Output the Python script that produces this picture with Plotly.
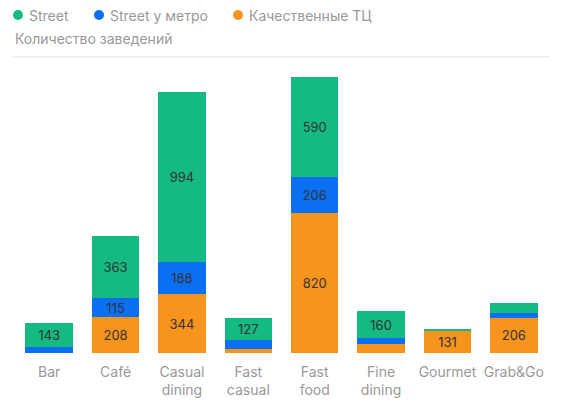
import plotly.graph_objects as go

# categories and values
categories = ['Bar', 'Café', 'Casual<br>dining', 'Fast<br>casual', 'Fast<br>food',
              'Fine<br>dining', 'Gourmet', 'Grab&Go']
mall = [0, 208, 344, 21, 820, 53, 131, 206]        # Качественные ТЦ
metro = [35, 115, 188, 54, 206, 33, 2, 29]         # Street у метро
street = [143, 363, 994, 127, 590, 160, 5, 60]     # Street

series_names = ['Street', 'Street у метро', 'Качественные ТЦ']
colors = {'Street': '#15b982', 'Street у метро': '#0b6ff4', 'Качественные ТЦ': '#f7941e'}

FONT = 'Inter, Roboto, sans-serif'
GREY = '#999999'

# the page body has an 8px margin, so the figure is made 8px smaller
W, H = 555, 406
L, R, T, B = 8, 16, 49, 61


def labels(values):
    # only the larger segments carry a number in the original
    return [str(v) if v >= 100 else '' for v in values]


def px_to_paper(px):
    return (px - L) / (W - L - R)


fig = go.Figure()

for name, values in [('Качественные ТЦ', mall), ('Street у метро', metro), ('Street', street)]:
    fig.add_trace(go.Bar(
        x=categories,
        y=values,
        name=name,
        marker=dict(color=colors[name], line=dict(width=0)),
        text=labels(values),
        textposition='inside',
        insidetextanchor='middle',
        textangle=0,
        textfont=dict(color='#333333', size=14, family=FONT),
        showlegend=False,
        hoverinfo='y+name',
    ))

fig.update_layout(
    width=W,
    height=H,
    barmode='stack',
    bargap=0.285,
    plot_bgcolor='white',
    paper_bgcolor='white',
    margin=dict(l=L, r=R, t=T, b=B, autoexpand=False),
    font=dict(family=FONT, color=GREY, size=14),
    showlegend=False,
    uniformtext=dict(minsize=12, mode='show'),
)

fig.update_xaxes(
    showgrid=False, showline=False, zeroline=False,
    ticks='', tickfont=dict(size=14, color=GREY, family=FONT),
    ticklabelstandoff=9,
)
fig.update_yaxes(
    range=[0, 1730], visible=False, showgrid=False, zeroline=False,
)

# legend: coloured dot + name (dot centres in figure pixels)
legend_dot_x = [10, 91, 230]
legend_y = 7
for name, cx in zip(series_names, legend_dot_x):
    fig.add_shape(
        type='circle', xref='paper', yref='paper',
        xsizemode='pixel', ysizemode='pixel',
        xanchor=px_to_paper(cx), yanchor=1.0,
        x0=-5, x1=5, y0=T - legend_y - 5, y1=T - legend_y + 5,
        fillcolor=colors[name], line=dict(width=0),
    )
    fig.add_annotation(
        text=name, xref='paper', yref='paper', x=px_to_paper(cx + 10), y=1.0,
        yshift=T - legend_y, xanchor='left', yanchor='middle', borderpad=0,
        showarrow=False, font=dict(size=14, color=GREY, family=FONT),
    )

fig.add_annotation(
    text='Количество заведений', xref='paper', yref='paper',
    x=px_to_paper(5), y=1.0, yshift=T - 30, xanchor='left', yanchor='middle',
    showarrow=False, font=dict(size=14, color=GREY, family=FONT),
)

fig.add_shape(
    type='line', xref='paper', yref='paper',
    x0=px_to_paper(5), x1=px_to_paper(542), y0=1.0, y1=1.0,
    line=dict(color='#e3e3e3', width=1),
)

fig.write_html('out.html')
